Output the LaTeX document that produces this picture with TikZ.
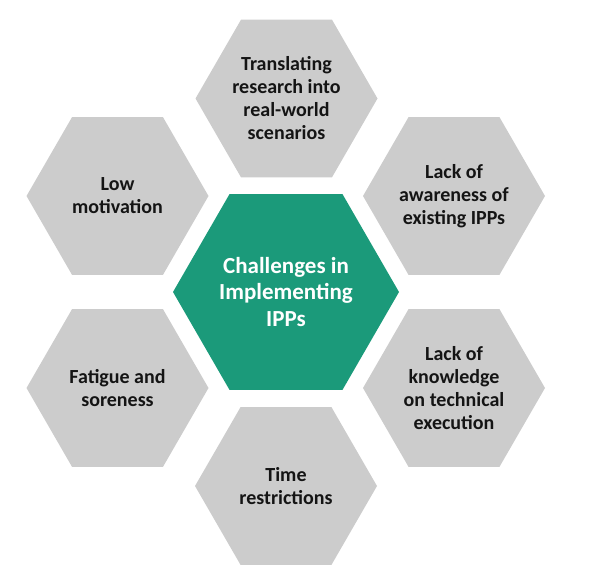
\documentclass[tikz,border=0pt]{standalone}
\usepackage{fontspec}
\setmainfont{Carlito}
\usetikzlibrary{shapes.geometric}
\definecolor{hexgrey}{RGB}{204,204,204}
\definecolor{hexgreen}{RGB}{27,154,122}
\definecolor{txtdark}{RGB}{20,20,20}
\tikzset{
  hexbase/.style={regular polygon, regular polygon sides=6, inner sep=0pt, draw=none},
  greyhex/.style={hexbase, fill=hexgrey, minimum size=182pt},
  greenhex/.style={hexbase, fill=hexgreen, minimum size=226pt},
  greytxt/.style={align=center, text=txtdark, font=\bfseries\fontsize{20}{23}\selectfont},
  greentxt/.style={align=center, text=white, font=\bfseries\fontsize{23}{26.5}\selectfont}
}
\begin{document}
\begin{tikzpicture}[x=1pt,y=-1pt]
\useasboundingbox (0,0) rectangle (600,578);
\node[greenhex] (c) at (286,292) {};
\node[greyhex] (t) at (286.5,98.5) {};
\node[greyhex] (tr) at (454,196) {};
\node[greyhex] (br) at (454,388) {};
\node[greyhex] (b) at (286,486) {};
\node[greyhex] (bl) at (117.5,388) {};
\node[greyhex] (tl) at (117.5,196) {};
\node[greentxt] (ct) at (c) {Challenges in\\Implementing\\IPPs};
\node[greytxt] (tt) at (t) {Translating\\research into\\real-world\\scenarios};
\node[greytxt] (trt) at (tr) {Lack of\\awareness of\\existing IPPs};
\node[greytxt] (brt) at (br) {Lack of\\knowledge\\on technical\\execution};
\node[greytxt] (bt) at (b) {Time\\restrictions};
\node[greytxt] (blt) at (bl) {Fatigue and\\soreness};
\node[greytxt] (tlt) at (tl) {Low\\motivation};
\end{tikzpicture}
\end{document}
